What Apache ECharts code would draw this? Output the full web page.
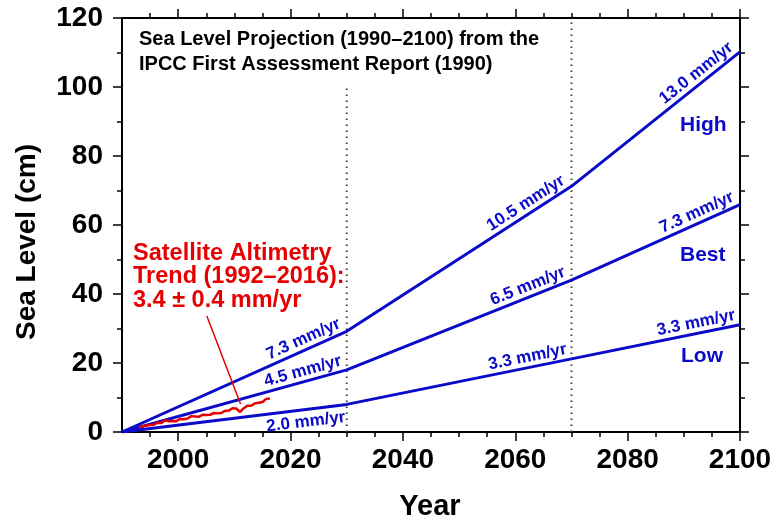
<!DOCTYPE html>
<html style="height: 100%">
<head>
	<meta charset="utf-8">
	<script src="https://cdn.jsdelivr.net/npm/echarts@6/dist/echarts.min.js"></script>
</head>
<body style="height: 100%; margin: 0; background: #fff">
	<div id="container" style="width: 771px; height: 523px;"></div>
	<script type="text/javascript">
		// IPCC FAR projections, break points (year) and sea level (cm)
		const years = [1990, 2030, 2070, 2100];
		const high = [0, 29.2, 71.2, 110.2];
		const best = [0, 18.0, 44.0, 65.9];
		const low = [0, 8.0, 21.2, 31.1];
		const highRates = ['7.3 mm/yr', '10.5 mm/yr', '13.0 mm/yr'];
		const bestRates = ['4.5 mm/yr', '6.5 mm/yr', '7.3 mm/yr'];
		const lowRates = ['2.0 mm/yr', '3.3 mm/yr', '3.3 mm/yr'];

		// satellite altimetry, every 4 months from 1993 (cm)
		const satStart = 1993;
		const satStep = 1 / 3;
		const satLevel = [
			1.4, 1.2, 1.7, 1.5, 1.9, 1.6, 2.0, 2.4, 2.1, 2.3,
			2.7, 2.5, 2.6, 3.0, 3.4, 3.6, 3.1, 2.9, 3.2, 3.5,
			3.1, 3.4, 3.8, 3.5, 3.7, 4.1, 3.9, 4.3, 4.6, 4.2,
			4.5, 4.8, 4.4, 4.6, 5.0, 4.7, 4.9, 5.3, 5.0, 5.2,
			5.5, 5.3, 5.4, 5.8, 5.5, 5.7, 6.1, 5.9, 6.2, 6.6,
			6.9, 7.2, 6.8, 6.3, 5.8, 6.2, 6.9, 7.3, 7.6, 7.9,
			7.6, 8.0, 8.3, 8.1, 8.5, 8.2, 8.7, 9.2, 9.6, 9.9, 9.7
		];
		const pointer = [[2005.1, 33.6], [2011.1, 8.1]];
		const dividers = [[2030, 100], [2070, 120]];

		const xMajor = [2000, 2020, 2040, 2060, 2080, 2100];
		const xMinor = [];
		for (let y = 1995; y <= 2100; y += 5) if (y % 20 !== 0) xMinor.push(y);

		const blue = '#0a0ac8';
		const red = '#e60000';
		const font = '"Liberation Sans", Arial, Helvetica, sans-serif';

		let dom = document.getElementById('container');
		let myChart = echarts.init(dom);

		function pairs(xs, ys) {
			return xs.map((x, i) => [x, ys[i]]);
		}

		function xAxisOf(pos, ticks, len, withLabels) {
			return {
				type: 'value', position: pos, min: 1990, max: 2100,
				axisLine: { show: true, onZero: false, lineStyle: { color: '#000', width: 2 } },
				axisTick: { show: true, customValues: ticks, length: len, lineStyle: { color: '#000', width: 1.5 } },
				axisLabel: withLabels ? {
					show: true, customValues: ticks, margin: 14,
					formatter: v => String(v),
					color: '#000', fontFamily: font, fontWeight: 'bold', fontSize: 28
				} : { show: false },
				splitLine: { show: false }
			};
		}

		function yAxisOf(pos, withLabels) {
			return {
				type: 'value', position: pos, min: 0, max: 120, interval: 20,
				axisLine: { show: true, lineStyle: { color: '#000', width: 2 } },
				axisTick: { show: true, length: 9, lineStyle: { color: '#000', width: 1.5 } },
				minorTick: { show: true, splitNumber: 2, length: 5, lineStyle: { color: '#000', width: 1.5 } },
				axisLabel: {
					show: withLabels, margin: 19,
					color: '#000', fontFamily: font, fontWeight: 'bold', fontSize: 28
				},
				splitLine: { show: false }
			};
		}

		function projection(name, vals) {
			return {
				name: name, type: 'line', data: pairs(years, vals),
				symbol: 'none', silent: true, z: 3,
				lineStyle: { color: blue, width: 3 }
			};
		}

		let series = [];
		dividers.forEach(d => {
			series.push({
				type: 'line', data: [[d[0], 0], d], symbol: 'none', silent: true, z: 1,
				lineStyle: { color: '#444', width: 2, type: [1.5, 4.5] }
			});
		});
		series.push(projection('High', high));
		series.push(projection('Best', best));
		series.push(projection('Low', low));
		series.push({
			name: 'Satellite', type: 'line', symbol: 'none', silent: true, z: 4,
			data: satLevel.map((v, i) => [satStart + i * satStep, v]),
			lineStyle: { color: red, width: 2.5 }
		});
		series.push({
			type: 'line', data: pointer, symbol: 'none', silent: true, z: 4,
			lineStyle: { color: red, width: 1.5 }
		});

		let option = {
			animation: false,
			grid: { left: 122, right: 31, top: 18, bottom: 91, containLabel: false, outerBoundsMode: 'none' },
			xAxis: [
				xAxisOf('bottom', xMajor, 9, true),
				xAxisOf('bottom', xMinor, 5, false),
				xAxisOf('top', xMajor, 9, false),
				xAxisOf('top', xMinor, 5, false)
			],
			yAxis: [yAxisOf('left', true), yAxisOf('right', false)],
			series: series
		};
		myChart.setOption(option, true);

		// text annotations placed from data coordinates
		function px(p) {
			return myChart.convertToPixel({ xAxisIndex: 0, yAxisIndex: 0 }, p);
		}

		let graphics = [];
		function rateLabel(text, vals, seg, below) {
			let a = px([years[seg], vals[seg]]);
			let b = px([years[seg + 1], vals[seg + 1]]);
			let ang = Math.atan2(a[1] - b[1], b[0] - a[0]);
			graphics.push({
				type: 'text', x: b[0], y: b[1], rotation: ang, z: 10,
				style: {
					text: text, x: -3, y: below ? 4 : -2,
					align: 'right', verticalAlign: below ? 'top' : 'bottom',
					fill: blue, font: 'bold 17px ' + font
				}
			});
		}
		for (let s = 0; s < 3; s++) {
			rateLabel(highRates[s], high, s, false);
			rateLabel(bestRates[s], best, s, false);
			rateLabel(lowRates[s], low, s, s === 0);
		}

		function plainText(text, x, y, color, size, align, rot) {
			graphics.push({
				type: 'text', x: x, y: y, rotation: rot || 0, z: 10,
				style: {
					text: text, align: align, verticalAlign: 'middle',
					fill: color, font: 'bold ' + size + 'px ' + font
				}
			});
		}
		plainText('Sea Level Projection (1990\u20132100) from the', 139, 39, '#000', 20, 'left');
		plainText('IPCC First Assessment Report (1990)', 139, 64, '#000', 20, 'left');
		plainText('Satellite Altimetry', 133, 254, red, 23.5, 'left');
		plainText('Trend (1992\u20132016):', 133, 277, red, 23.5, 'left');
		plainText('3.4 \u00b1 0.4 mm/yr', 133, 301, red, 23.5, 'left');
		plainText('High', 680, 125, blue, 21, 'left');
		plainText('Best', 680, 255, blue, 21, 'left');
		plainText('Low', 681, 356, blue, 21, 'left');
		plainText('Year', 430, 507, '#000', 29, 'center');
		plainText('Sea Level (cm)', 27, 242, '#000', 28, 'center', Math.PI / 2);

		myChart.setOption({ graphic: graphics });
	</script>
</body>
</html>
